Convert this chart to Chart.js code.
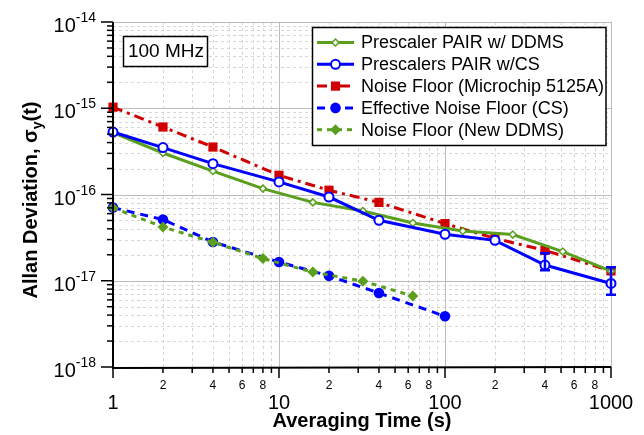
<!DOCTYPE html>
<html lang="en">
<head>
<meta charset="UTF-8">
<title>Allan Deviation 100 MHz</title>
<script src="https://cdn.jsdelivr.net/npm/chart.js"></script>
<style>
  body { margin: 0; background: #fff; }
  #chart { display: block; }
</style>
</head>
<body>
<canvas id="chart" width="644" height="435"></canvas>
<script>
const FONT = '"Liberation Sans", Arial, sans-serif';

// averaging time (s) and Allan deviation per series
const tauDdms = [1, 2, 4, 8, 16, 32, 64, 128, 256, 512, 1000];
const adevDdms = [5.22e-16, 3.03e-16, 1.87e-16, 1.17e-16, 8.1e-17, 6.44e-17, 4.67e-17, 3.77e-17, 3.43e-17, 2.18e-17, 1.29e-17];

const tauCs = [1, 2, 4, 10, 20, 40, 100, 200, 400, 1000];
const adevCs = [5.3e-16, 3.5e-16, 2.28e-16, 1.4e-16, 9.35e-17, 5.02e-17, 3.46e-17, 2.94e-17, 1.52e-17, 9.3e-18];
const csErrLow = [null, null, null, null, null, null, null, null, 1.32e-17, 6.9e-18];
const csErrHigh = [null, null, null, null, null, null, null, null, 2.08e-17, 1.43e-17];

const tauMicrochip = [1, 2, 4, 10, 20, 40, 100, 200, 400, 1000];
const adevMicrochip = [1.03e-15, 6.06e-16, 3.55e-16, 1.67e-16, 1.12e-16, 8.1e-17, 4.6e-17, 3.1e-17, 2.25e-17, 1.3e-17];

const tauEffCs = [1, 2, 4, 10, 20, 40, 100];
const adevEffCs = [7.05e-17, 5.12e-17, 2.81e-17, 1.65e-17, 1.14e-17, 7.2e-18, 3.87e-18];

const tauNewDdms = [1, 2, 4, 8, 16, 32, 64];
const adevNewDdms = [7.0e-17, 4.2e-17, 2.79e-17, 1.81e-17, 1.26e-17, 9.9e-18, 6.65e-18];

const xMajor = [1, 10, 100, 1000];
const xMinorLabels = [2, 4, 6, 8];
const yExponents = [-14, -15, -16, -17, -18];

const GREEN = '#5a9f1e';
const BLUE = '#0000ff';
const RED = '#d10000';

const pts = (xs, ys) => xs.map((x, i) => ({ x: x, y: ys[i] }));

const series = [
  { label: 'Prescaler PAIR w/ DDMS', data: pts(tauDdms, adevDdms), borderColor: GREEN, borderWidth: 3,
    pointStyle: 'rectRot', pointRadius: 3.5, pointBackgroundColor: '#fff', pointBorderColor: GREEN, pointBorderWidth: 1.5, order: 2 },
  { label: 'Prescalers PAIR w/CS', data: pts(tauCs, adevCs), borderColor: BLUE, borderWidth: 3,
    pointStyle: 'circle', pointRadius: 4.5, pointBackgroundColor: '#fff', pointBorderColor: BLUE, pointBorderWidth: 2, order: 1 },
  { label: 'Noise Floor (Microchip 5125A)', data: pts(tauMicrochip, adevMicrochip), borderColor: RED, borderWidth: 3, borderDash: [10, 5, 3, 5],
    pointStyle: 'rect', pointRadius: 6.5, pointBackgroundColor: RED, pointBorderColor: RED, pointBorderWidth: 0, order: 5 },
  { label: 'Effective Noise Floor (CS)', data: pts(tauEffCs, adevEffCs), borderColor: BLUE, borderWidth: 3, borderDash: [8, 6],
    pointStyle: 'circle', pointRadius: 5.3, pointBackgroundColor: BLUE, pointBorderColor: BLUE, pointBorderWidth: 0, order: 4 },
  { label: 'Noise Floor (New DDMS)', data: pts(tauNewDdms, adevNewDdms), borderColor: GREEN, borderWidth: 3, borderDash: [5, 5],
    pointStyle: 'rectRot', pointRadius: 5.5, pointBackgroundColor: GREEN, pointBorderColor: GREEN, pointBorderWidth: 0, order: 3 }
];

function marker(ctx, ds, cx, cy) {
  const r = ds.pointRadius;
  ctx.save();
  ctx.setLineDash([]);
  ctx.fillStyle = ds.pointBackgroundColor;
  ctx.strokeStyle = ds.pointBorderColor;
  ctx.lineWidth = ds.pointBorderWidth;
  ctx.beginPath();
  if (ds.pointStyle === 'circle') {
    ctx.arc(cx, cy, r, 0, Math.PI * 2);
  } else if (ds.pointStyle === 'rect') {
    const s = r * Math.SQRT1_2;
    ctx.rect(cx - s, cy - s, 2 * s, 2 * s);
  } else {
    ctx.moveTo(cx, cy - r); ctx.lineTo(cx + r, cy); ctx.lineTo(cx, cy + r); ctx.lineTo(cx - r, cy); ctx.closePath();
  }
  ctx.fill();
  if (ds.pointBorderWidth > 0) ctx.stroke();
  ctx.restore();
}

// log grid behind the data
const gridPlugin = {
  id: 'grid',
  beforeDatasetsDraw(chart) {
    const { ctx, chartArea: a, scales: { x, y } } = chart;
    ctx.save();
    ctx.lineWidth = 1;
    ctx.setLineDash([3, 3]);
    ctx.strokeStyle = '#d6d6d6';
    for (let d = 0; d < 3; d++) {
      for (let m = 2; m <= 9; m++) {
        const px = Math.round(x.getPixelForValue(m * Math.pow(10, d))) + 0.5;
        ctx.beginPath(); ctx.moveTo(px, a.top); ctx.lineTo(px, a.bottom); ctx.stroke();
      }
    }
    for (let e = -18; e < -14; e++) {
      for (let m = 2; m <= 9; m++) {
        const py = Math.round(y.getPixelForValue(m * Math.pow(10, e))) + 0.5;
        ctx.beginPath(); ctx.moveTo(a.left, py); ctx.lineTo(a.right, py); ctx.stroke();
      }
    }
    ctx.setLineDash([]);
    ctx.strokeStyle = '#bcbcbc';
    xMajor.forEach(v => {
      const px = Math.round(x.getPixelForValue(v)) + 0.5;
      ctx.beginPath(); ctx.moveTo(px, a.top); ctx.lineTo(px, a.bottom); ctx.stroke();
    });
    yExponents.forEach(e => {
      const py = Math.round(y.getPixelForValue(Math.pow(10, e))) + 0.5;
      ctx.beginPath(); ctx.moveTo(a.left, py); ctx.lineTo(a.right, py); ctx.stroke();
    });
    ctx.restore();
  }
};

const errorBarPlugin = {
  id: 'errbars',
  afterDatasetsDraw(chart) {
    const { ctx, scales: { x, y } } = chart;
    ctx.save();
    ctx.strokeStyle = BLUE;
    ctx.lineWidth = 2.5;
    tauCs.forEach((t, i) => {
      if (csErrLow[i] == null) return;
      const px = x.getPixelForValue(t);
      const y1 = y.getPixelForValue(csErrLow[i]);
      const y2 = y.getPixelForValue(csErrHigh[i]);
      ctx.beginPath();
      ctx.moveTo(px, y1); ctx.lineTo(px, y2);
      ctx.moveTo(px - 5, y1); ctx.lineTo(px + 5, y1);
      ctx.moveTo(px - 5, y2); ctx.lineTo(px + 5, y2);
      ctx.stroke();
    });
    ctx.restore();
  }
};

const axesPlugin = {
  id: 'axes',
  afterDraw(chart) {
    const { ctx, chartArea: a, scales: { x, y } } = chart;
    ctx.save();
    ctx.strokeStyle = '#000';
    ctx.fillStyle = '#000';
    ctx.lineWidth = 2;
    ctx.beginPath();
    ctx.moveTo(a.left, a.top); ctx.lineTo(a.left, a.bottom + 1); ctx.lineTo(a.right, a.bottom);
    ctx.stroke();

    // x ticks
    ctx.lineWidth = 1.5;
    for (let d = 0; d < 3; d++) {
      for (let m = 2; m <= 9; m++) {
        const px = x.getPixelForValue(m * Math.pow(10, d));
        ctx.beginPath(); ctx.moveTo(px, a.bottom); ctx.lineTo(px, a.bottom + 6); ctx.stroke();
      }
    }
    xMajor.forEach(v => {
      const px = x.getPixelForValue(v);
      ctx.beginPath(); ctx.moveTo(px, a.bottom); ctx.lineTo(px, a.bottom + 11); ctx.stroke();
    });
    ctx.textAlign = 'center';
    ctx.textBaseline = 'alphabetic';
    ctx.font = '12px ' + FONT;
    for (let d = 0; d < 3; d++) {
      xMinorLabels.forEach(m => {
        ctx.fillText(String(m), x.getPixelForValue(m * Math.pow(10, d)), a.bottom + 22);
      });
    }
    ctx.font = '20px ' + FONT;
    xMajor.forEach(v => ctx.fillText(String(v), x.getPixelForValue(v), a.bottom + 42));

    // y ticks
    for (let e = -18; e < -14; e++) {
      for (let m = 2; m <= 9; m++) {
        const py = y.getPixelForValue(m * Math.pow(10, e));
        ctx.beginPath(); ctx.moveTo(a.left, py); ctx.lineTo(a.left - 6, py); ctx.stroke();
      }
    }
    yExponents.forEach(e => {
      const py = y.getPixelForValue(Math.pow(10, e));
      ctx.beginPath(); ctx.moveTo(a.left, py); ctx.lineTo(a.left - 12, py); ctx.stroke();
      ctx.font = '14px ' + FONT;
      const ex = String(e);
      const ew = ctx.measureText(ex).width;
      ctx.textAlign = 'left';
      ctx.fillText(ex, 96 - ew, py);
      ctx.font = '20px ' + FONT;
      ctx.textAlign = 'right';
      ctx.fillText('10', 96 - ew, py + 10);
    });

    // axis titles
    ctx.textAlign = 'center';
    ctx.font = 'bold 20px ' + FONT;
    ctx.fillText('Averaging Time (s)', (a.left + a.right) / 2, 427);

    ctx.save();
    ctx.translate(37, 200);
    ctx.rotate(-Math.PI / 2);
    const parts = [
      { t: 'Allan Deviation, \u03c3', f: 'bold 20px ' + FONT, dy: 0 },
      { t: 'y', f: 'bold 14px ' + FONT, dy: 5 },
      { t: '(t)', f: 'bold 20px ' + FONT, dy: 0 }
    ];
    let total = 0;
    parts.forEach(p => { ctx.font = p.f; p.w = ctx.measureText(p.t).width; total += p.w; });
    let cx = -total / 2;
    ctx.textAlign = 'left';
    parts.forEach(p => { ctx.font = p.f; ctx.fillText(p.t, cx, p.dy); cx += p.w; });
    ctx.restore();

    // frequency label box
    ctx.lineWidth = 1.5;
    ctx.fillStyle = '#fff';
    ctx.fillRect(123.5, 36.5, 84, 30);
    ctx.strokeRect(123.5, 36.5, 84, 30);
    ctx.fillStyle = '#000';
    ctx.font = '19px ' + FONT;
    ctx.textBaseline = 'middle';
    ctx.fillText('100 MHz', 166, 52);

    // legend
    ctx.fillStyle = '#fff';
    ctx.fillRect(312.5, 27.5, 293.5, 118);
    ctx.strokeRect(312.5, 27.5, 293.5, 118);
    ctx.font = '18px ' + FONT;
    ctx.textAlign = 'left';
    series.forEach((ds, i) => {
      const ry = 42.5 + i * 21.8;
      ctx.save();
      ctx.strokeStyle = ds.borderColor;
      ctx.lineWidth = 3;
      ctx.setLineDash(ds.borderDash || []);
      ctx.beginPath(); ctx.moveTo(317, ry); ctx.lineTo(354, ry); ctx.stroke();
      ctx.restore();
      marker(ctx, ds, 335.5, ry);
      ctx.fillStyle = '#000';
      ctx.fillText(ds.label, 361, ry + 1);
    });
    ctx.restore();
  }
};

new Chart(document.getElementById('chart').getContext('2d'), {
  type: 'line',
  data: { datasets: series.map(s => Object.assign({ fill: false, tension: 0, clip: false }, s)) },
  options: {
    responsive: false,
    animation: false,
    events: [],
    layout: { padding: { left: 113, right: 33, top: 22, bottom: 68 } },
    scales: {
      x: { type: 'logarithmic', min: 1, max: 1000, display: false },
      y: { type: 'logarithmic', min: 1e-18, max: 1e-14, display: false }
    },
    plugins: { legend: { display: false }, tooltip: { enabled: false } }
  },
  plugins: [gridPlugin, errorBarPlugin, axesPlugin]
});
</script>
</body>
</html>
